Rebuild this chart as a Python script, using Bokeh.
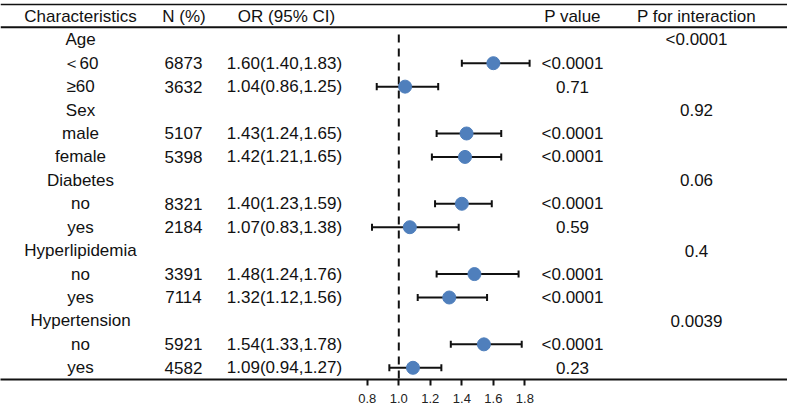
import math
from bokeh.plotting import figure
from bokeh.models import Range1d, Span, LinearAxis, FixedTicker, PrintfTickFormatter, ColumnDataSource
from bokeh.core.properties import value
from bokeh.embed import file_html
from bokeh.resources import INLINE

# ---------------- data ----------------
headers = ["Characteristics", "N (%)", "OR (95% CI)", "P value", "P for interaction"]
labels = ["Age", "＜60", "≥60", "Sex", "male", "female", "Diabetes", "no", "yes",
          "Hyperlipidemia", "no", "yes", "Hypertension", "no", "yes"]
n_text = ["", "6873", "3632", "", "5107", "5398", "", "8321", "2184",
          "", "3391", "7114", "", "5921", "4582"]
or_text = ["", "1.60(1.40,1.83)", "1.04(0.86,1.25)", "", "1.43(1.24,1.65)", "1.42(1.21,1.65)",
           "", "1.40(1.23,1.59)", "1.07(0.83,1.38)", "", "1.48(1.24,1.76)", "1.32(1.12,1.56)",
           "", "1.54(1.33,1.78)", "1.09(0.94,1.27)"]
or_val = [None, 1.60, 1.04, None, 1.43, 1.42, None, 1.40, 1.07, None, 1.48, 1.32, None, 1.54, 1.09]
ci_lo = [None, 1.40, 0.86, None, 1.24, 1.21, None, 1.23, 0.83, None, 1.24, 1.12, None, 1.33, 0.94]
ci_hi = [None, 1.83, 1.25, None, 1.65, 1.65, None, 1.59, 1.38, None, 1.76, 1.56, None, 1.78, 1.27]
p_value = ["", "<0.0001", "0.71", "", "<0.0001", "<0.0001", "", "<0.0001", "0.59",
           "", "<0.0001", "<0.0001", "", "<0.0001", "0.23"]
p_inter = ["<0.0001", "", "", "0.92", "", "", "0.06", "", "", "0.4", "", "", "0.0039", "", ""]
x_ticks = [0.8, 1.0, 1.2, 1.4, 1.6, 1.8]

# ---------------- layout ----------------
W, H_FRAME = 787, 379
PX_PER_UNIT = 157.6
PX_AT_ONE = 398.3
ROW_PX = 23.43
X_MIN = 1 - PX_AT_ONE / PX_PER_UNIT
X_MAX = 1 + (W - PX_AT_ONE) / PX_PER_UNIT
Y_BOTTOM = 14.5
Y_TOP = Y_BOTTOM - H_FRAME / ROW_PX


def px2x(px):
    return X_MIN + px / PX_PER_UNIT


def py2row(py):
    return Y_TOP + py / ROW_PX


col_px = [80, 183, 284, 572, 696]
head_px = [80, 183.5, 286, 572, 696]
FONT = value("Liberation Sans")
FS = value("17px")

p = figure(frame_width=W, frame_height=H_FRAME,
           x_range=Range1d(X_MIN, X_MAX), y_range=Range1d(Y_BOTTOM, Y_TOP),
           x_axis_type=None, y_axis_type=None,
           output_backend="svg", toolbar_location=None, min_border=0)
p.outline_line_color = None
p.background_fill_color = "white"
p.border_fill_color = "white"

rows = list(range(len(labels)))

# table text
columns = [labels, n_text, or_text, p_value, p_inter]
for cx, col in zip(col_px, columns):
    src = ColumnDataSource(dict(x=[px2x(cx)] * len(rows), y=rows, t=col))
    p.text(x="x", y="y", text="t", source=src, text_align="center", text_baseline="middle",
           text_font=FONT, text_font_size=FS, text_color="#111111")

hsrc = ColumnDataSource(dict(x=[px2x(h) for h in head_px], y=[-1] * len(headers), t=headers))
p.text(x="x", y="y", text="t", source=hsrc, text_align="center", text_baseline="middle",
       text_font=FONT, text_font_size=FS, text_color="#111111")

# horizontal rules
p.add_layout(Span(location=py2row(4), dimension="width", line_color="#111111", line_width=1.5))
p.add_layout(Span(location=py2row(26.7), dimension="width", line_color="#111111", line_width=2))

# reference line
p.segment(x0=[1.0], y0=[py2row(34)], x1=[1.0], y1=[Y_BOTTOM], line_color="#111111",
          line_width=2, line_dash="8 6")

# forest
idx = [i for i in rows if or_val[i] is not None]
fs = ColumnDataSource(dict(
    y=idx,
    est=[or_val[i] for i in idx],
    lo=[ci_lo[i] for i in idx],
    hi=[ci_hi[i] for i in idx],
    ytop=[i - 0.15 for i in idx],
    ybot=[i + 0.15 for i in idx],
))
p.segment(x0="lo", y0="y", x1="hi", y1="y", source=fs, line_color="#111111", line_width=2)
p.segment(x0="lo", y0="ytop", x1="lo", y1="ybot", source=fs, line_color="#111111", line_width=2)
p.segment(x0="hi", y0="ytop", x1="hi", y1="ybot", source=fs, line_color="#111111", line_width=2)
p.scatter(x="est", y="y", source=fs, size=13, fill_color="#4F7FBC", line_color="#4F7FBC")

# x axis
ax = LinearAxis(ticker=FixedTicker(ticks=x_ticks), formatter=PrintfTickFormatter(format="%.1f"),
                axis_line_width=2, axis_line_color="#111111",
                major_tick_line_width=2, major_tick_line_color="#111111",
                major_tick_out=6, major_tick_in=0, minor_tick_line_color=None,
                major_label_text_font="Liberation Sans", major_label_text_font_size="13px",
                major_label_text_color="#222222", major_label_standoff=8)
p.add_layout(ax, "below")

html = file_html(p, INLINE)
html = html.replace("<head>", "<head><style>html,body{margin:0;padding:0;}</style>", 1)
open("out.html", "w").write(html)
